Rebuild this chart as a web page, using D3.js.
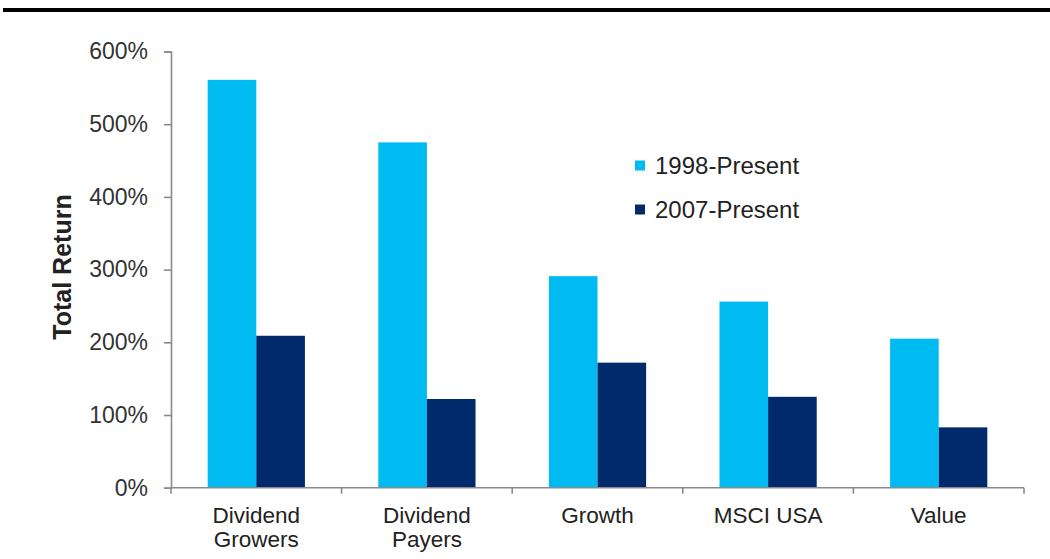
<!DOCTYPE html>
<html>
<head>
<meta charset="utf-8">
<script src="https://cdn.jsdelivr.net/npm/d3@7"></script>
<style>
html,body{margin:0;padding:0;background:#fff;}
svg{display:block;font-family:"Liberation Sans",Arial,Helvetica,sans-serif;}
</style>
</head>
<body>
<svg id="chart" width="1050" height="559"></svg>
<script>
const categories = [["Dividend","Growers"],["Dividend","Payers"],["Growth"],["MSCI USA"],["Value"]];
const seriesNames = ["1998-Present","2007-Present"];
const values1998 = [561, 475, 291, 256, 205];
const values2007 = [209, 122, 172, 125, 83];
const yTicks = [0,100,200,300,400,500,600];
const colors = ["#00BBF1","#002A6C"];

const svg = d3.select("#chart");
const W = 1050, H = 559;
const mLeft = 171, mRight = 1024, mTop = 51.5, mBottom = 487.7;

// top rule
svg.append("rect").attr("x",3).attr("y",8).attr("width",W-3).attr("height",4).attr("fill","#000");

const catKeys = categories.map(c=>c.join(" "));
const x0 = d3.scaleBand().domain(catKeys).range([mLeft,mRight]).padding(0);
const bw = x0.bandwidth();
const x1 = d3.scaleBand().domain(seriesNames).range([bw*0.215,bw*0.785]).padding(0);
const y = d3.scaleLinear().domain([0,600]).range([mBottom,mTop]);

const data = catKeys.map((k,i)=>({key:k, vals:[values1998[i],values2007[i]]}));

const g = svg.append("g");
g.selectAll("g.cat").data(data).join("g").attr("class","cat")
  .attr("transform",d=>`translate(${x0(d.key)},0)`)
  .selectAll("rect").data(d=>d.vals.map((v,j)=>({s:seriesNames[j],v,j})))
  .join("rect")
  .attr("x",d=>x1(d.s)).attr("width",x1.bandwidth())
  .attr("y",d=>y(d.v)).attr("height",d=>mBottom-y(d.v))
  .attr("fill",d=>colors[d.j]);

// Y axis
const yAxis = d3.axisLeft(y).tickValues(yTicks).tickFormat(d=>d+"%").tickSize(7).tickPadding(16);
const ya = svg.append("g").attr("transform",`translate(${mLeft},0)`).call(yAxis);
ya.select(".domain").attr("stroke","#8a8a8a").attr("stroke-width",1.6);
ya.selectAll(".tick line").attr("stroke","#8a8a8a").attr("stroke-width",1.6);
ya.selectAll(".tick text").attr("font-size",23).attr("fill","#333").attr("font-family","Liberation Sans, Arial, sans-serif");

// X axis: line with ticks at band boundaries
const xa = svg.append("g");
xa.append("line").attr("x1",mLeft).attr("x2",mRight).attr("y1",mBottom).attr("y2",mBottom)
  .attr("stroke","#8a8a8a").attr("stroke-width",1.6);
const bounds = catKeys.map(k=>x0(k)).concat([x0(catKeys[catKeys.length-1])+bw]);
xa.selectAll("line.t").data(bounds).join("line").attr("class","t")
  .attr("x1",d=>d).attr("x2",d=>d).attr("y1",mBottom).attr("y2",mBottom+6)
  .attr("stroke","#8a8a8a").attr("stroke-width",1.6);
const lbl = xa.selectAll("text.cl").data(categories).join("text").attr("class","cl")
  .attr("text-anchor","middle").attr("font-size",22.5).attr("fill","#222")
  .attr("x",(d,i)=>x0(catKeys[i])+bw/2).attr("y",523);
lbl.selectAll("tspan").data(d=>d).join("tspan")
  .attr("x",function(){return this.parentNode.getAttribute("x");})
  .attr("dy",(d,i)=>i===0?0:24).text(d=>d);

// Y title
svg.append("text").attr("transform","translate(71,267) rotate(-90)")
  .attr("text-anchor","middle").attr("font-size",25).attr("font-weight","bold").attr("fill","#222")
  .text("Total Return");

// Legend
const leg = svg.append("g");
const ly = [165.5,209.5];
seriesNames.forEach((s,i)=>{
  leg.append("rect").attr("x",635).attr("y",ly[i]-5).attr("width",10).attr("height",10).attr("fill",colors[i]);
  leg.append("text").attr("x",655).attr("y",ly[i]+8.5).attr("font-size",24).attr("fill","#222").text(s);
});
</script>
</body>
</html>
